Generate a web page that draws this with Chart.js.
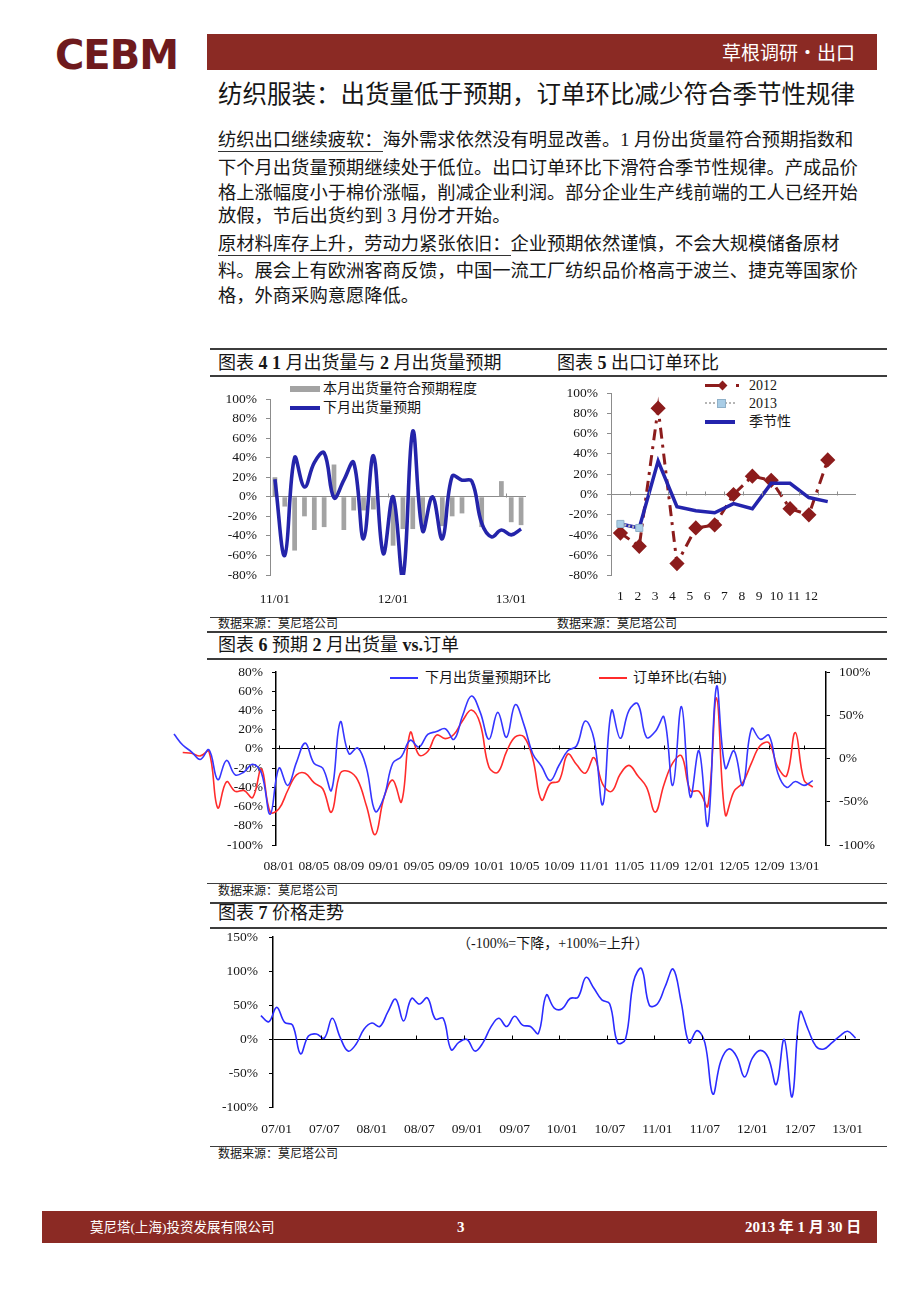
<!DOCTYPE html>
<html>
<head>
<meta charset="utf-8">
<script src="https://cdn.jsdelivr.net/npm/chart.js@4.4.0/dist/chart.umd.min.js"></script>
<style>
  body { margin: 0; background: #fff; }
  #page { position: relative; width: 920px; height: 1301px; overflow: hidden;
          font-family: "Liberation Serif", "Noto Sans CJK SC", serif; color: #161616; }
  .t { position: absolute; white-space: nowrap; line-height: 1; }
  .rule { position: absolute; background: #3c3c3c; }
  canvas { position: absolute; }
  .ul { border-bottom: 1px solid #333; padding-bottom: 1px; }
</style>
</head>
<body>
<div id="page">
  <!-- header -->
  <div class="t" style="left:55px;top:32px;font:bold 40px 'DejaVu Sans';color:#6e1a1d;letter-spacing:-1px;">CEBM</div>
  <div style="position:absolute;left:207px;top:34px;width:670px;height:36px;background:#8b2a24;"></div>
  <div class="t" style="left:722px;top:42px;font-size:19px;color:#fff;font-family:'Noto Sans CJK SC';">草根调研•出口</div>
  <div class="t" style="left:218px;top:83px;font-size:24.5px;">纺织服装：出货量低于预期，订单环比减少符合季节性规律</div>

  <!-- body text -->
  <div class="t" style="left:218px;top:131px;font-size:18.3px;"><span class="ul">纺织出口继续疲软：</span>海外需求依然没有明显改善。1 月份出货量符合预期指数和</div>
  <div class="t" style="left:218px;top:159px;font-size:18.3px;">下个月出货量预期继续处于低位。出口订单环比下滑符合季节性规律。产成品价</div>
  <div class="t" style="left:218px;top:184px;font-size:18.3px;">格上涨幅度小于棉价涨幅，削减企业利润。部分企业生产线前端的工人已经开始</div>
  <div class="t" style="left:218px;top:207px;font-size:18.3px;">放假，节后出货约到 3 月份才开始。</div>
  <div class="t" style="left:218px;top:235px;font-size:18.3px;"><span class="ul">原材料库存上升，劳动力紧张依旧：</span>企业预期依然谨慎，不会大规模储备原材</div>
  <div class="t" style="left:218px;top:262px;font-size:18.3px;">料。展会上有欧洲客商反馈，中国一流工厂纺织品价格高于波兰、捷克等国家价</div>
  <div class="t" style="left:218px;top:287px;font-size:18.3px;">格，外商采购意愿降低。</div>

  <!-- chart 4 / 5 frame -->
  <div class="rule" style="left:210px;top:348px;width:677px;height:2px;"></div>
  <div class="t" style="left:218px;top:354px;font-size:18px;">图表 <b>4 1</b> 月出货量与 <b>2</b> 月出货量预期</div>
  <div class="t" style="left:557px;top:354px;font-size:18px;">图表 <b>5</b> 出口订单环比</div>
  <div class="rule" style="left:210px;top:375px;width:677px;height:2px;"></div>
  <div class="rule" style="left:210px;top:617px;width:677px;height:1px;"></div>
  <div class="t" style="left:218px;top:618px;font-size:12px;">数据来源：莫尼塔公司</div>
  <div class="t" style="left:557px;top:618px;font-size:12px;">数据来源：莫尼塔公司</div>
  <div class="rule" style="left:207px;top:631px;width:680px;height:2px;"></div>

  <!-- chart 4 legend -->
  <div style="position:absolute;left:290px;top:386px;width:30px;height:6px;background:#a3a3a3;"></div>
  <div class="t" style="left:323px;top:382px;font-size:14px;">本月出货量符合预期程度</div>
  <div style="position:absolute;left:290px;top:406px;width:30px;height:3.5px;background:#2424aa;"></div>
  <div class="t" style="left:323px;top:401px;font-size:14px;">下月出货量预期</div>

  <!-- chart 5 legend -->
  <div style="position:absolute;left:705px;top:384px;width:14px;height:3px;background:#8c1c1c;"></div>
  <div style="position:absolute;left:719px;top:382px;width:7px;height:7px;background:#8c1c1c;transform:rotate(45deg);"></div>
  <div style="position:absolute;left:736px;top:384px;width:3px;height:3px;background:#8c1c1c;"></div>
  <div class="t" style="left:749px;top:379px;font-size:14px;">2012</div>
  <div style="position:absolute;left:705px;top:402px;width:30px;height:0;border-top:2px dotted #b5b5b5;"></div>
  <div style="position:absolute;left:717px;top:399px;width:7px;height:7px;background:#a9cde6;border:1px solid #8fb0c8;"></div>
  <div class="t" style="left:749px;top:397px;font-size:14px;">2013</div>
  <div style="position:absolute;left:705px;top:420px;width:30px;height:3.5px;background:#2424ad;"></div>
  <div class="t" style="left:749px;top:415px;font-size:14px;">季节性</div>

  <canvas id="c4" width="335" height="230" style="left:210px;top:380px;"></canvas>
  <canvas id="c5" width="335" height="236" style="left:550px;top:374px;"></canvas>

  <!-- chart 6 -->
  <div class="t" style="left:218px;top:636px;font-size:18px;">图表 <b>6</b> 预期 <b>2</b> 月出货量 <b>vs.</b>订单</div>
  <div class="rule" style="left:207px;top:658px;width:680px;height:2px;"></div>
  <div style="position:absolute;left:390px;top:677px;width:28px;height:1.5px;background:#3636ff;"></div>
  <div class="t" style="left:425px;top:671px;font-size:14px;">下月出货量预期环比</div>
  <div style="position:absolute;left:599px;top:677px;width:28px;height:1.5px;background:#ff2b2b;"></div>
  <div class="t" style="left:633px;top:671px;font-size:14px;">订单环比(右轴)</div>
  <canvas id="c6" width="720" height="227" style="left:165px;top:653px;"></canvas>
  <div class="rule" style="left:207px;top:883px;width:680px;height:1px;"></div>
  <div class="t" style="left:218px;top:885px;font-size:12px;">数据来源：莫尼塔公司</div>

  <!-- chart 7 -->
  <div class="rule" style="left:210px;top:902px;width:677px;height:2px;"></div>
  <div class="t" style="left:218px;top:904px;font-size:18px;">图表 <b>7</b> 价格走势</div>
  <div class="rule" style="left:210px;top:927px;width:677px;height:2px;"></div>
  <div class="t" style="left:457px;top:937px;font-size:14px;">（-100%=下降，+100%=上升）</div>
  <canvas id="c7" width="685" height="225" style="left:200px;top:918px;"></canvas>
  <div class="rule" style="left:210px;top:1146px;width:677px;height:1px;"></div>
  <div class="t" style="left:218px;top:1148px;font-size:12px;">数据来源：莫尼塔公司</div>

  <!-- footer -->
  <div style="position:absolute;left:42px;top:1211px;width:835px;height:32px;background:#8b2a24;"></div>
  <div class="t" style="left:90px;top:1221px;font-size:13.5px;color:#fff;">莫尼塔(上海)投资发展有限公司</div>
  <div class="t" style="left:457px;top:1220px;font-size:15px;color:#fff;font-weight:bold;">3</div>
  <div class="t" style="left:745px;top:1220px;font-size:15px;color:#fff;font-weight:bold;">2013 年 1 月 30 日</div>
</div>

<script>
// chart 4: monthly, 11/01 .. 13/02
const c4Months = ['11/01','11/02','11/03','11/04','11/05','11/06','11/07','11/08','11/09','11/10','11/11','11/12',
                  '12/01','12/02','12/03','12/04','12/05','12/06','12/07','12/08','12/09','12/10','12/11','12/12',
                  '13/01','13/02'];
const c4Shown = ['11/01', '12/01', '13/01'];
const c4Match = [20, -10, -55, -20, -34, -31, 33, -34, -14, -14, -13, null, -50, -33, -33, -30, null, -30, -20, -17,
                 null, -31, null, 16, -26, -29];
const c4Next = [18, -60, 40, 10, 35, 45, -1, 17, 35, -43, 42, -58, 0, -82, 67, -35, 0, -43, 21, 17,
                16, -27, -41, -34, -39, -33];

// chart 5: month of year
const c5Months = ['1','2','3','4','5','6','7','8','9','10','11','12'];
const c5Y2012 = [-38, -51, 85, -68, -33, -30, 0, 18, 14, -14, -20, 34];
const c5Y2013 = [-29, -33];
const c5Season = [-29, -33, 33, -12, -16, -18, -9, -14, 11, 11, -3, -7];
const c5LabelStep = 0.92; // labels are packed a bit tighter than the points

// chart 6: monthly from 07/01
const c6Ticks = ['08/01','08/05','08/09','09/01','09/05','09/09','10/01','10/05','10/09','11/01','11/05','11/09',
                 '12/01','12/05','12/09','13/01'];
const c6Expect = [15.5, 4, -3, -11, -1, -32, -12, -27, -24, -16,
                  -25, -68, -20, -38, -14, 6, -15, -20, -43, 28,
                  -5, 1, -20, -65, -50, -15, -8, 9, 2, 15,
                  18, 21, 10, 35, 55, 38, 10, 38, 12, 46,
                  25, -5, -18, -33, -17, -2, 3, 29, 10, -58,
                  40, 11, 40, 47, 12, 18, 33, -38, 44, -50,
                  -2, -80, 65, -20, -2, -38, 21, 10, 14, -25,
                  -40, -34, -38, -33];
const c6Order = [null, 7, 6, 3, 8, -57, -27, -38, -37, -45,
                 -12, -62, -58, -37, -19, -17, -28, -35, -62, -17,
                 -15, -25, -55, -88, -45, -25, -50, 30, 4, 8,
                 27, 23, 28, 44, 56, 40, -10, -16, 8, 25,
                 25, 0, -48, -29, -26, 5, -7, -17, 1, -30,
                 -38, -18, -8, -20, -33, -62, -30, -5, 3, -37,
                 -38, -55, 70, -65, -38, -28, -5, 15, 18, -10,
                 -20, 30, -25, -33];

// chart 7: monthly from 06/11
const c7Ticks = ['07/01','07/07','08/01','08/07','09/01','09/07','10/01','10/07','11/01','11/07','12/01','12/07','13/01'];
const c7Price = [35, 26, 47, 25, 21, -21, 5, 8, 2, 31,
                 3, -17, -7, 15, 24, 19, 40, 59, 27, 60,
                 52, 61, 30, 31, -15, -4, 0, -17, -5, 18,
                 31, 19, 34, 21, 19, 9, 65, 46, 45, 60,
                 62, 91, 75, 58, 52, -5, 1, 85, 104, 50,
                 52, 78, 103, 55, -5, 13, -5, -80, -32, -14,
                 -25, -55, -27, -16, -27, -66, 0, -84, 40, 15,
                 -10, -14, -5, 5, 12, 2];

const FONT = "'Liberation Serif', 'Noto Sans CJK SC', serif";
Chart.defaults.font.family = FONT;
Chart.defaults.font.size = 13.5;
Chart.defaults.color = '#161616';
Chart.defaults.animation = false;
Chart.defaults.responsive = false;
Chart.defaults.plugins.legend.display = false;
Chart.defaults.plugins.tooltip.enabled = false;

const pct = v => v + '%';
const monthIdx = s => (parseInt(s.slice(0, 2), 10) - 7) * 12 + parseInt(s.slice(3), 10) - 1;

// small tick marks standing on the zero line
function zeroTicks(getXs, color) {
  return {
    id: 'zeroTicks',
    afterDatasetsDraw(chart) {
      const ctx = chart.ctx;
      const y = Math.round(chart.scales.y.getPixelForValue(0)) + 0.5;
      ctx.save();
      ctx.strokeStyle = color;
      ctx.lineWidth = 1;
      getXs(chart).forEach(x => {
        x = Math.round(x) + 0.5;
        ctx.beginPath();
        ctx.moveTo(x, y);
        ctx.lineTo(x, y - 4);
        ctx.stroke();
      });
      ctx.restore();
    }
  };
}

// chart 4
new Chart(document.getElementById('c4'), {
  type: 'bar',
  data: {
    labels: c4Months,
    datasets: [
      { type: 'line', data: c4Next, borderColor: '#2424aa', borderWidth: 3.6, pointRadius: 0, tension: 0.4 },
      { type: 'bar', data: c4Match, backgroundColor: '#a3a3a3', barPercentage: 0.48, categoryPercentage: 1 }
    ]
  },
  options: {
    layout: { padding: { left: 0, right: 19, top: 19, bottom: 0 } },
    scales: {
      x: {
        grid: { display: false, drawTicks: false }, border: { display: false },
        ticks: { autoSkip: false, maxRotation: 0, padding: 16,
                 callback: (v, i) => c4Shown.includes(c4Months[i]) ? c4Months[i] : '' },
        afterFit: s => { s.height = 35; }
      },
      y: {
        min: -80, max: 100,
        ticks: { stepSize: 20, callback: pct, padding: 9, autoSkip: false },
        grid: { color: c => c.tick.value === 0 ? '#8c8c8c' : 'transparent', tickColor: '#8c8c8c', tickLength: 4 },
        border: { color: '#8c8c8c' },
        afterFit: s => { s.width = 60; }
      }
    }
  },
  plugins: [zeroTicks(ch => {
    const x = ch.scales.x, w = (ch.chartArea.right - ch.chartArea.left) / c4Months.length;
    return c4Shown.slice(1).map(m => x.getPixelForValue(c4Months.indexOf(m)) - w / 2);
  }, '#8c8c8c')]
});

// chart 5
const c5Points = arr => arr.map((v, i) => ({ x: i, y: v }));
new Chart(document.getElementById('c5'), {
  type: 'line',
  data: {
    datasets: [
      { data: c5Points(c5Y2013), borderColor: '#b5b5b5', borderWidth: 2.5, borderDash: [2, 2],
        pointStyle: 'rect', pointRadius: 5, pointBackgroundColor: '#a9cde6', pointBorderColor: '#8fb0c8', pointBorderWidth: 1 },
      { data: c5Points(c5Season), borderColor: '#2424ad', borderWidth: 3.5, pointRadius: 0 },
      { data: c5Points(c5Y2012), borderColor: '#8c1c1c', borderWidth: 3, borderDash: [11, 6, 3, 6],
        pointStyle: 'rectRot', pointRadius: 5.5, pointBackgroundColor: '#8c1c1c', pointBorderColor: '#8c1c1c' }
    ]
  },
  options: {
    layout: { padding: { left: 0, right: 29, top: 19, bottom: 0 } },
    scales: {
      x: {
        type: 'linear', min: -0.5, max: 12.5, bounds: 'data',
        grid: { display: false, drawTicks: false }, border: { display: false },
        afterBuildTicks: s => { s.ticks = c5Months.map((m, i) => ({ value: i * c5LabelStep })); },
        ticks: { padding: 13, maxRotation: 0, autoSkip: false, callback: (v, i) => c5Months[i] },
        afterFit: s => { s.height = 34.3; }
      },
      y: {
        min: -80, max: 100,
        ticks: { stepSize: 20, callback: pct, padding: 9, autoSkip: false },
        grid: { color: c => c.tick.value === 0 ? '#8c8c8c' : 'transparent', tickColor: '#8c8c8c', tickLength: 4 },
        border: { color: '#8c8c8c' },
        afterFit: s => { s.width = 61; }
      }
    }
  },
  plugins: [zeroTicks(ch => c5Months.map((m, i) => ch.scales.x.getPixelForValue(i + 0.5)), '#8c8c8c')]
});

// chart 6
new Chart(document.getElementById('c6'), {
  type: 'line',
  data: {
    datasets: [
      { data: c6Expect.map((v, i) => ({ x: i, y: v })), borderColor: '#3636ff', borderWidth: 1.6,
        pointRadius: 0, tension: 0.4, clip: false, yAxisID: 'y' },
      { data: c6Order.map((v, i) => ({ x: i, y: v })), borderColor: '#ff2b2b', borderWidth: 1.6,
        pointRadius: 0, tension: 0.4, clip: false, yAxisID: 'y2' }
    ]
  },
  options: {
    layout: { padding: { left: 0, right: 9, top: 19, bottom: 0 } },
    scales: {
      x: {
        type: 'linear', bounds: 'data',
        afterDataLimits: s => { s.min = 11.66; s.max = 74.51; },
        afterBuildTicks: s => { s.ticks = c6Ticks.map(t => ({ value: monthIdx(t) })); },
        grid: { display: false, drawTicks: false }, border: { display: false },
        ticks: { padding: 13, maxRotation: 0, autoSkip: false, callback: (v, i) => c6Ticks[i] },
        afterFit: s => { s.height = 35; }
      },
      y: {
        min: -100, max: 80,
        ticks: { stepSize: 20, callback: pct, padding: 9, autoSkip: false },
        grid: { color: c => c.tick.value === 0 ? '#000' : 'transparent', tickColor: '#000', tickLength: 4 },
        border: { color: '#000', width: 1.5 },
        afterFit: s => { s.width = 111; }
      },
      y2: {
        position: 'right', min: -100, max: 100,
        ticks: { stepSize: 50, callback: pct, padding: 9, autoSkip: false },
        grid: { drawOnChartArea: false, tickColor: '#000', tickLength: 4 },
        border: { color: '#000', width: 1.5 },
        afterFit: s => { s.width = 50; }
      }
    }
  },
  plugins: [zeroTicks(ch => c6Ticks.map(t => ch.scales.x.getPixelForValue(monthIdx(t))), '#000')]
});

// chart 7
new Chart(document.getElementById('c7'), {
  type: 'line',
  data: {
    datasets: [
      { data: c7Price.map((v, i) => ({ x: i - 2, y: v })), borderColor: '#2b2bff', borderWidth: 1.6,
        pointRadius: 0, tension: 0.4, clip: false }
    ]
  },
  options: {
    layout: { padding: { left: 0, right: 25, top: 19, bottom: 0 } },
    scales: {
      x: {
        type: 'linear', bounds: 'data',
        afterDataLimits: s => { s.min = -0.47; s.max = 73.56; },
        afterBuildTicks: s => { s.ticks = c7Ticks.map(t => ({ value: monthIdx(t) })); },
        grid: { display: false, drawTicks: false }, border: { display: false },
        ticks: { padding: 14, maxRotation: 0, autoSkip: false, callback: (v, i) => c7Ticks[i] },
        afterFit: s => { s.height = 35.3; }
      },
      y: {
        min: -100, max: 150,
        ticks: { stepSize: 50, callback: pct, padding: 11, autoSkip: false },
        grid: { color: c => c.tick.value === 0 ? '#000' : 'transparent', tickColor: '#000', tickLength: 4 },
        border: { color: '#000', width: 1.5 },
        afterFit: s => { s.width = 73; }
      }
    }
  },
  plugins: [zeroTicks(ch => c7Ticks.slice(1).map(t => ch.scales.x.getPixelForValue(monthIdx(t)) - 3), '#000')]
});
</script>
</body>
</html>
